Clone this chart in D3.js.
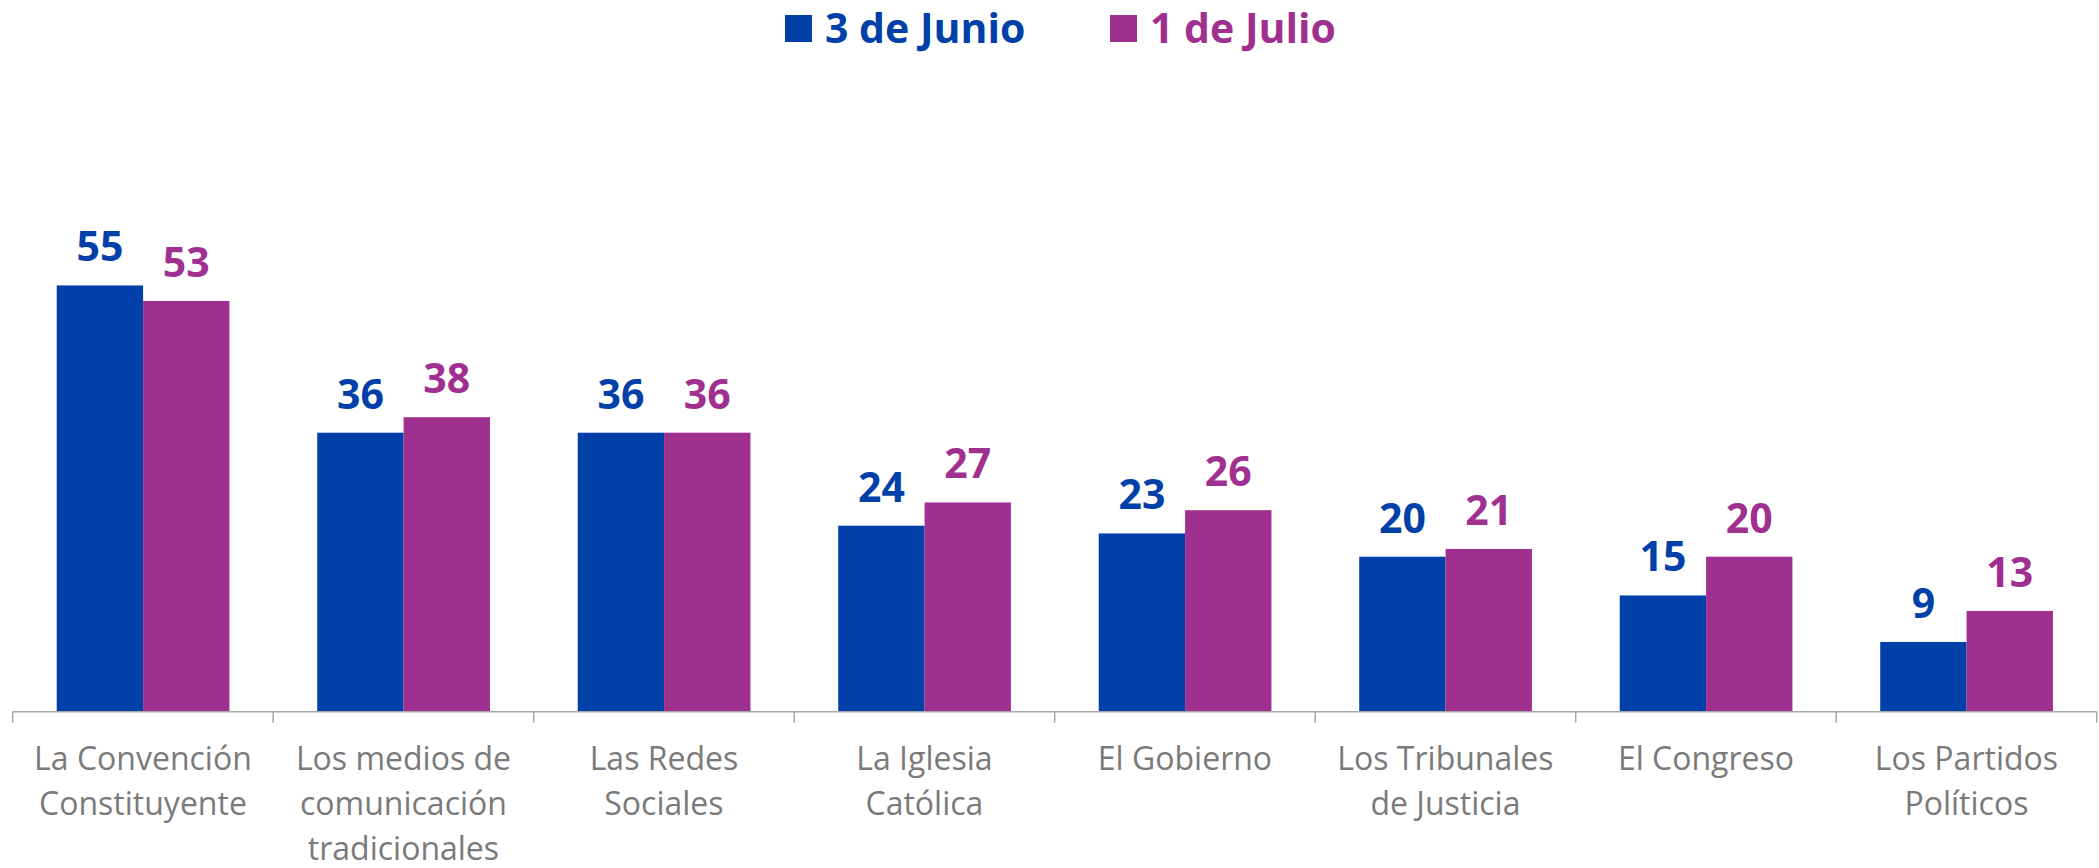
<!DOCTYPE html>
<html>
<head>
<meta charset="utf-8">
<script src="https://cdn.jsdelivr.net/npm/d3@7"></script>
<style>
  html, body { margin: 0; padding: 0; background: #fff; }
  #chart { width: 2099px; height: 868px; }
</style>
</head>
<body>
<div id="chart"></div>
<script>
// Chart data
const categories = [
    'La Convención\nConstituyente',
    'Los medios de\ncomunicación\ntradicionales',
    'Las Redes\nSociales',
    'La Iglesia\nCatólica',
    'El Gobierno',
    'Los Tribunales\nde Justicia',
    'El Congreso',
    'Los Partidos\nPolíticos'
];
const seriesNames = ['3 de Junio', '1 de Julio'];
const junio = [55, 36, 36, 24, 23, 20, 15, 9];
const julio = [53, 38, 36, 27, 26, 21, 20, 13];

const colors = ['#0040a8', '#a0308f'];
const font = '"Open Sans", "Noto Sans", sans-serif';

const width = 2099;
const height = 868;
const axisY = 711.7;
const left = 12.7;
const right = 2096.7;

const svg = d3.select('#chart')
    .append('svg')
    .attr('width', width)
    .attr('height', height);

// Scales
const x0 = d3.scaleBand()
    .domain(categories)
    .range([left, right])
    .padding(0);

const bw = x0.bandwidth();
const x1 = d3.scaleBand()
    .domain(seriesNames)
    .range([bw * 0.169, bw * 0.832])
    .padding(0);

const y = d3.scaleLinear()
    .domain([0, 60])
    .range([axisY, axisY - 60 * 7.75]);

const rows = categories.map((c, i) => ({
    cat: c,
    values: [junio[i], julio[i]]
}));

// Bars
const groups = svg.append('g')
    .selectAll('g')
    .data(rows)
    .join('g')
    .attr('transform', d => `translate(${x0(d.cat)},0)`);

groups.selectAll('rect')
    .data(d => d.values.map((v, k) => ({ v, k })))
    .join('rect')
    .attr('x', d => x1(seriesNames[d.k]))
    .attr('y', d => y(d.v))
    .attr('width', x1.bandwidth())
    .attr('height', d => y(0) - y(d.v))
    .attr('fill', d => colors[d.k]);

// Value labels
groups.selectAll('text')
    .data(d => d.values.map((v, k) => ({ v, k })))
    .join('text')
    .attr('x', d => x1(seriesNames[d.k]) + x1.bandwidth() / 2)
    .attr('y', d => y(d.v) - 24)
    .attr('text-anchor', 'middle')
    .style('font-family', font)
    .style('font-weight', 700)
    .style('font-size', '41px')
    .style('fill', d => colors[d.k])
    .text(d => d.v);

// X axis line and ticks
const axis = svg.append('g').attr('stroke', '#a6a6a6').attr('stroke-width', 1.5);
axis.append('line')
    .attr('x1', left).attr('x2', right)
    .attr('y1', axisY).attr('y2', axisY);

const tickXs = categories.map(c => x0(c)).concat([right]);
axis.selectAll('line.tick')
    .data(tickXs)
    .join('line')
    .attr('class', 'tick')
    .attr('x1', d => d).attr('x2', d => d)
    .attr('y1', axisY).attr('y2', axisY + 11);

// Category labels
const catLabels = svg.append('g')
    .selectAll('text')
    .data(categories)
    .join('text')
    .attr('x', d => x0(d) + bw / 2)
    .attr('y', 770)
    .attr('text-anchor', 'middle')
    .style('font-family', font)
    .style('font-size', '32px')
    .style('fill', '#7a7a7a');

catLabels.selectAll('tspan')
    .data(d => d.split('\n'))
    .join('tspan')
    .attr('x', function() { return this.parentNode.getAttribute('x'); })
    .attr('dy', (d, i) => i === 0 ? 0 : 45)
    .text(d => d);

// Legend
const legendX = [785, 1110];
const legend = svg.append('g')
    .selectAll('g')
    .data(seriesNames)
    .join('g')
    .attr('transform', (d, i) => `translate(${legendX[i]},0)`);

legend.append('rect')
    .attr('x', 0)
    .attr('y', 15)
    .attr('width', 27)
    .attr('height', 27)
    .attr('fill', (d, i) => colors[i]);

legend.append('text')
    .attr('x', 40)
    .attr('y', 43)
    .style('font-family', font)
    .style('font-weight', 700)
    .style('font-size', '41px')
    .style('fill', (d, i) => colors[i])
    .text(d => d);
</script>
</body>
</html>
